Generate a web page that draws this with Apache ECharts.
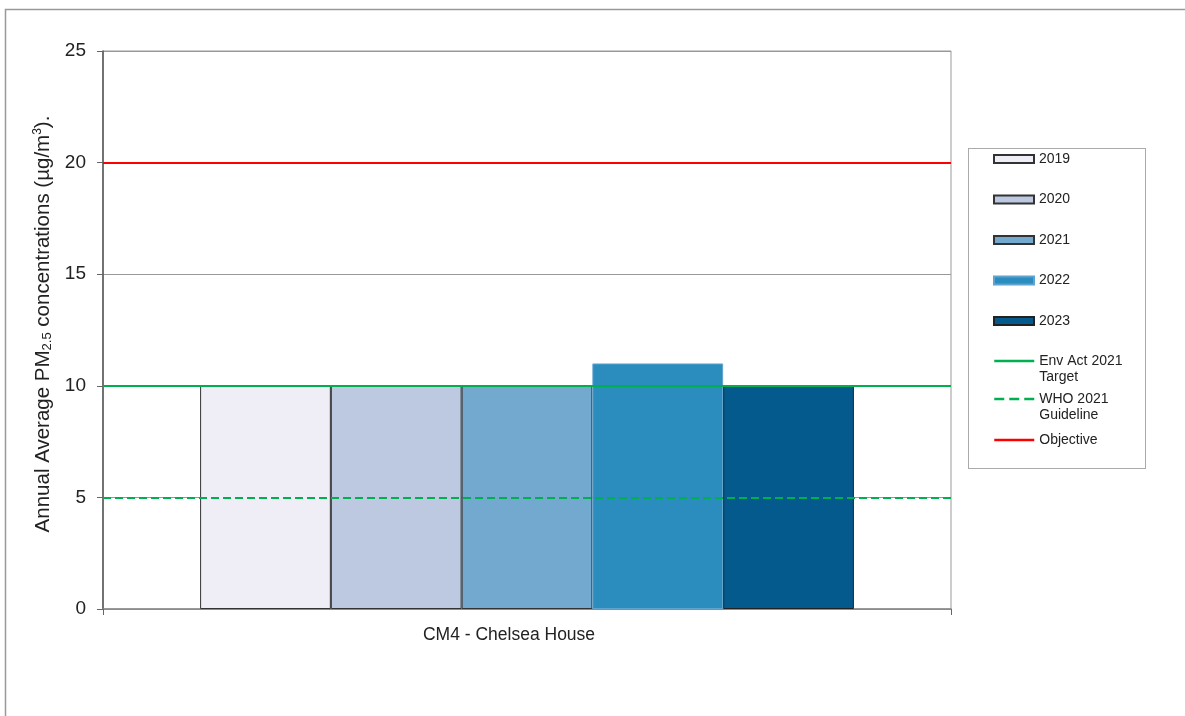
<!DOCTYPE html>
<html>
<head>
<meta charset="utf-8">
<script src="https://cdn.jsdelivr.net/npm/echarts@6/dist/echarts.min.js"></script>
<style>
  html, body { margin: 0; padding: 0; background: #fff; }
  #chart { width: 1185px; height: 716px; }
</style>
</head>
<body>
<div id="chart"></div>
<script>
// site and yearly annual means
const sites = ['CM4 - Chelsea House'];
const years = ['2019', '2020', '2021', '2022', '2023'];
const yearValues = [[10], [10], [10], [11], [10]];
const yearColors = ['#EFEDF5', '#BDC9E1', '#74A9CF', '#2B8CBE', '#045A8D'];
const yearBorders = ['#333333', '#333333', '#333333', '#5FA3D0', '#222222'];

// reference lines
const limitNames = ['Env Act 2021\nTarget', 'WHO 2021\nGuideline', 'Objective'];
const limitValues = [10, 5, 20];
const limitColors = ['#00B050', '#00B050', '#FF0000'];
const limitTypes = ['solid', 'dashed', 'solid'];

const yTicks = { min: 0, max: 25, interval: 5 };

const chart = echarts.init(document.getElementById('chart'));

const series = [];
years.forEach((y, i) => {
  series.push({
    name: y,
    type: 'bar',
    data: yearValues[i],
    barGap: '0%',
    barCategoryGap: '22.9%',
    z: 2,
    itemStyle: { color: yearColors[i], borderColor: yearBorders[i], borderWidth: 1 }
  });
});
limitNames.forEach((n, i) => {
  series.push({
    name: n,
    type: 'line',
    data: [],
    symbol: 'none',
    z: 5,
    lineStyle: { color: limitColors[i], width: 2, type: limitTypes[i] },
    itemStyle: { color: limitColors[i] },
    markLine: {
      silent: true,
      symbol: 'none',
      label: { show: false },
      lineStyle: { color: limitColors[i], width: 2, type: limitTypes[i] },
      data: [{ yAxis: limitValues[i] }],
      z: 5
    }
  });
});

const legendText = { fontFamily: 'Liberation Sans, Arial', fontSize: 14, color: '#222', lineHeight: 16 };
const lineLegend = {
  orient: 'vertical', left: 993, padding: 0,
  itemWidth: 40, itemHeight: 8, textStyle: legendText, selectedMode: false, z: 3,
  itemStyle: { opacity: 0 },
  lineStyle: { width: 2.5 }
};

const option = {
  animation: false,
  backgroundColor: '#fff',
  textStyle: { fontFamily: 'Liberation Sans, Arial' },
  graphic: [
    { type: 'rect', shape: { x: 5.5, y: 9.5, width: 1300, height: 800 },
      style: { fill: 'none', stroke: '#999', lineWidth: 1.5 }, silent: true, z: -10 },
    { type: 'rect', shape: { x: 968.5, y: 148.5, width: 177, height: 320 },
      style: { fill: '#fff', stroke: '#555', lineWidth: 1, lineDash: [1, 1] }, silent: true, z: 0 }
  ],
  grid: {
    left: 103, right: 234, top: 51, bottom: 107,
    show: true, borderColor: '#999', borderWidth: 1
  },
  legend: [
    {
      data: years, orient: 'vertical', left: 993, top: 151, padding: 0,
      icon: 'rect', itemWidth: 40, itemHeight: 8, itemGap: 24.5,
      textStyle: legendText, selectedMode: false, z: 3
    },
    Object.assign({}, lineLegend, { data: [limitNames[0]], top: 337, formatter: n => '\n' + n }),
    Object.assign({}, lineLegend, { data: [limitNames[1]], top: 375, formatter: n => '\n' + n }),
    Object.assign({}, lineLegend, { data: [limitNames[2]], top: 432 })
  ],
  xAxis: {
    type: 'category',
    data: sites,
    axisLine: { lineStyle: { color: '#888', width: 1.5 } },
    axisTick: { show: true, length: 6, inside: false, lineStyle: { color: '#666' } },
    axisLabel: { fontSize: 17.5, color: '#222', margin: 17, padding: [0, 36, 0, 0] }
  },
  yAxis: {
    type: 'value',
    min: yTicks.min, max: yTicks.max, interval: yTicks.interval,
    name: '{a|Annual Average PM}{s|2.5}{a| concentrations (µg/m}{p|3}{a|).}',
    nameLocation: 'middle',
    nameGap: 49,
    nameTextStyle: {
      padding: [0, 0, 0, 12],
      rich: {
        a: { fontSize: 20.5, color: '#222', fontFamily: 'Liberation Sans, Arial' },
        s: { fontSize: 13, color: '#222', verticalAlign: 'bottom', padding: [9, 0, 0, 0], fontFamily: 'Liberation Sans, Arial' },
        p: { fontSize: 12, color: '#222', verticalAlign: 'top', padding: [0, 0, 9, 0], fontFamily: 'Liberation Sans, Arial' }
      }
    },
    axisLine: { show: true, lineStyle: { color: '#555', width: 1.5 } },
    axisTick: { show: true, length: 6, lineStyle: { color: '#666' } },
    axisLabel: { fontSize: 19, color: '#222', margin: 17 },
    splitLine: { show: true, lineStyle: { color: '#999', width: 1 } }
  },
  series: series
};

chart.setOption(option);
</script>
</body>
</html>
